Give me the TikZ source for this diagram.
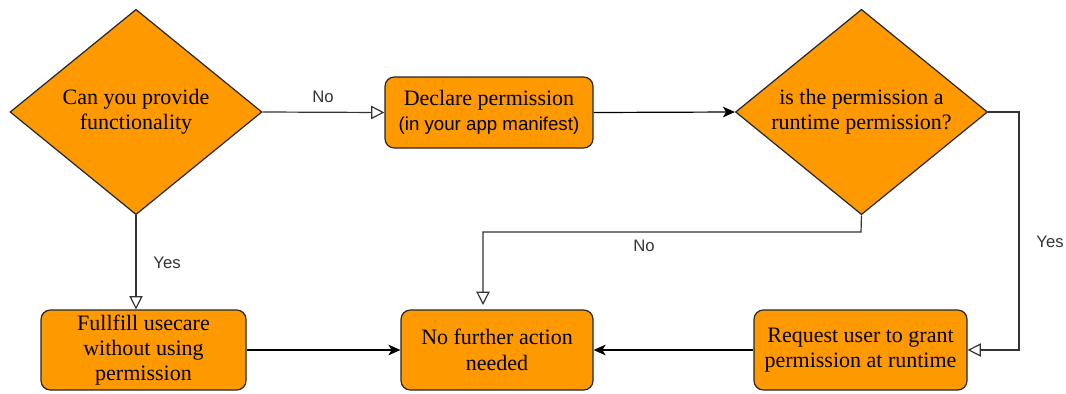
\documentclass[tikz,border=0pt]{standalone}
\usepackage{fontspec}
\setmainfont{Liberation Serif}
\newfontfamily\labelfont{Liberation Sans}
\usetikzlibrary{shapes.geometric,arrows.meta}
\definecolor{boxorange}{HTML}{FF9900}
\newcommand{\dtext}[1]{\makebox[0pt]{\raisebox{-4.5pt}[0pt][0pt]{\begin{tabular}{@{}c@{}}#1\end{tabular}}}}
\begin{document}
\begin{tikzpicture}[x=0.75pt,y=-0.75pt,
  every node/.style={font=\fontsize{16.5}{19}\selectfont},
  decision/.style={diamond, draw=black!85, line width=0.9pt, fill=boxorange,
    minimum width=189pt, minimum height=154pt, inner sep=0pt, align=center},
  procbox/.style={rectangle, rounded corners=7pt, draw=black!85, line width=0.9pt,
    fill=boxorange, inner sep=0pt, align=center},
  edgelabel/.style={font=\labelfont\fontsize{12.5}{14}\selectfont, text=black!80},
  openarrow/.style={draw=black!80, line width=0.9pt,
    -{Triangle[open, length=10pt, width=10pt]}},
  fillarrow/.style={draw=black, line width=0.9pt,
    -{Stealth[length=9pt, width=8pt, inset=2.4pt]}}
]
\useasboundingbox (0,0) rectangle (1066,393);

\node[decision] (d1) at (136,112) {\dtext{Can you provide\\functionality}};
\node[procbox, minimum width=156pt, minimum height=53.25pt] (declare) at (489,112.5)
  {Declare permission\\{\labelfont\fontsize{14}{17}\selectfont (in your app manifest)}};
\node[decision] (d2) at (861.5,112) {\dtext{is the permission a\\runtime permission?}};

\node[procbox, minimum width=153.75pt, minimum height=60pt] (fulfill) at (143.5,350)
  {Fullfill usecare\\without using\\permission};
\node[procbox, minimum width=144pt, minimum height=60pt] (nofurther) at (497,350)
  {No further action\\needed};
\node[procbox, minimum width=159.75pt, minimum height=60pt] (request) at (860.5,350)
  {Request user to grant\\permission at runtime};

\coordinate (nfturn) at (861,232);
\coordinate (nfin) at (483,305);
\coordinate (yesturn) at (1019,112);

\draw[openarrow] (d1.east) -- (declare.west);
\node[edgelabel] (lno1) at (323,97) {No};
\draw[fillarrow] (declare.east) -- (d2.west);

\draw[openarrow] (d1.south) -- (d1.south |- fulfill.north);
\node[edgelabel] (lyes1) at (167,263) {Yes};

\draw[openarrow] (d2.south) -- (nfturn) -| (nfin);
\node[edgelabel] (lno2) at (644,246) {No};

\draw[openarrow] (d2.east) -- (yesturn) |- (request.east);
\node[edgelabel] (lyes2) at (1050,242) {Yes};

\draw[fillarrow] (fulfill.east) -- (nofurther.west);
\draw[fillarrow] (request.west) -- (nofurther.east);
\end{tikzpicture}
\end{document}
